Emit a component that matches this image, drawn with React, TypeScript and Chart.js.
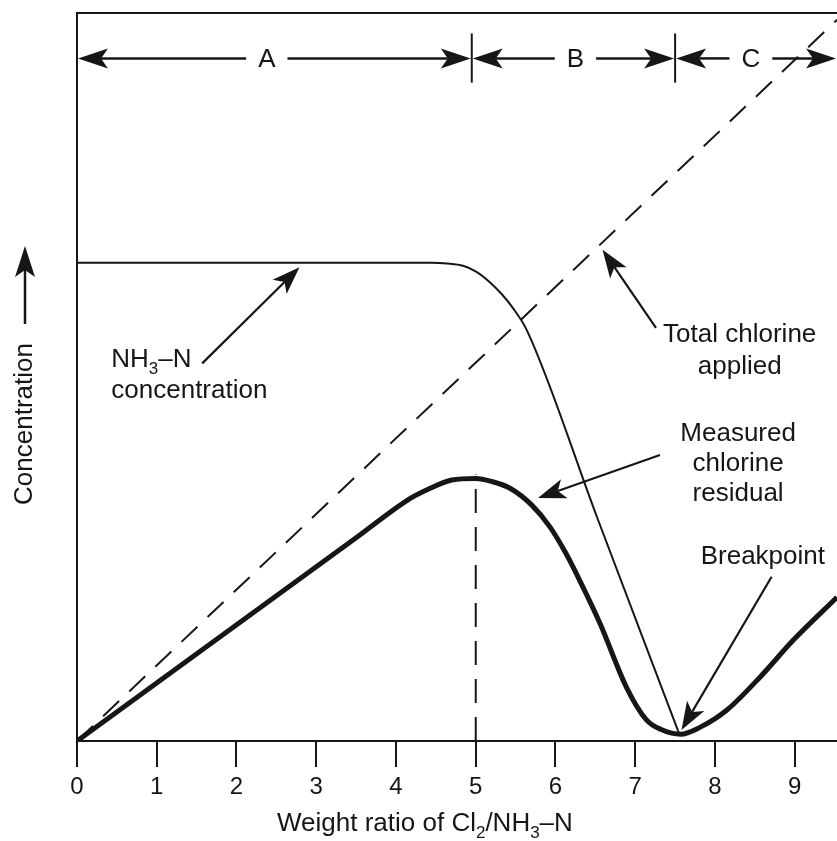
import React, { useEffect, useRef } from "react";
import { Chart, registerables } from "chart.js";

Chart.register(...registerables);

// ---------- data ----------
const X_MIN = 0;
const X_MAX = 9.53;
const Y_MIN = 0;
const Y_MAX = 9.62;

const xTickValues = [0, 1, 2, 3, 4, 5, 6, 7, 8, 9];

// Total chlorine applied (dashed, y = x)
const appliedX = [0, 9.53];
const appliedY = [0, 9.53];

// NH3-N concentration (thin line)
const nh3X = [0, 4.45, 4.64, 4.84, 5.01, 5.18, 5.33, 5.46, 5.64, 6.52, 7.56];
const nh3Y = [6.32, 6.32, 6.31, 6.28, 6.2, 6.06, 5.9, 5.73, 5.43, 2.96, 0.07];

// Measured chlorine residual (thick line)
const residualX = [0, 3.5, 4.17, 4.39, 4.7, 5.0, 5.2, 5.43, 5.7, 5.93, 6.12, 6.3, 6.56, 6.89, 7.14, 7.34, 7.57, 7.81, 8.15, 8.57, 8.98, 9.53];
const residualY = [0, 2.685, 3.2, 3.32, 3.45, 3.47, 3.43, 3.34, 3.12, 2.83, 2.5, 2.13, 1.55, 0.71, 0.28, 0.145, 0.09, 0.18, 0.41, 0.85, 1.33, 1.9];

// vertical dashed marker at peak
const peakX = [5, 5];
const peakY = [0, 3.52];

// zones A / B / C across the top
const zoneBounds = [0, 4.95, 7.5, 9.53];
const zoneLabels = ["A", "B", "C"];
const zoneLabelX = [2.38, 6.25, 8.45];
const zoneArrowY = 9.02;
const zoneDividerY = [8.7, 9.35];

// callouts: text lines, anchor, arrow start/end (data units)
const calloutTotalLines = ["Total chlorine", "applied"];
const calloutTotalAt = [8.31, 5.27];
const calloutTotalArrow = [7.26, 5.46, 6.59, 6.49];

const calloutResidualLines = ["Measured", "chlorine", "residual"];
const calloutResidualAt = [8.29, 3.96];
const calloutResidualArrow = [7.31, 3.78, 5.78, 3.21];

const calloutBreakLines = ["Breakpoint"];
const calloutBreakAt = [8.6, 2.34];
const calloutBreakArrow = [8.71, 2.17, 7.58, 0.145];

const calloutNh3At = [0.43, 4.94];
const calloutNh3Arrow = [1.57, 4.99, 2.79, 6.26];

const yAxisLabel = "Concentration";

// ---------- style ----------
const INK = "#161616";
const FONT = '"Liberation Sans", Arial, Helvetica, sans-serif';

const toPts = (xs: number[], ys: number[]) => xs.map((x, i) => ({ x, y: ys[i] }));

type Seg = [string, boolean];

function drawSegs(ctx: CanvasRenderingContext2D, segs: Seg[], x: number, y: number, size: number, align: "left" | "center") {
  const subSize = Math.round(size * 0.66);
  const widths = segs.map(([t, sub]) => {
    ctx.font = `${sub ? subSize : size}px ${FONT}`;
    return ctx.measureText(t).width;
  });
  const total = widths.reduce((a, b) => a + b, 0);
  let cx = align === "center" ? x - total / 2 : x;
  ctx.textAlign = "left";
  ctx.textBaseline = "alphabetic";
  segs.forEach(([t, sub], i) => {
    ctx.font = `${sub ? subSize : size}px ${FONT}`;
    ctx.fillText(t, cx, sub ? y + size * 0.27 : y);
    cx += widths[i];
  });
}

function arrowHead(ctx: CanvasRenderingContext2D, tx: number, ty: number, ang: number, len = 28, half = 10, notch = 7) {
  const dx = Math.cos(ang), dy = Math.sin(ang);
  const px = -dy, py = dx;
  ctx.beginPath();
  ctx.moveTo(tx, ty);
  ctx.lineTo(tx - len * dx + half * px, ty - len * dy + half * py);
  ctx.lineTo(tx - (len - notch) * dx, ty - (len - notch) * dy);
  ctx.lineTo(tx - len * dx - half * px, ty - len * dy - half * py);
  ctx.closePath();
  ctx.fill();
}

function arrow(ctx: CanvasRenderingContext2D, x0: number, y0: number, x1: number, y1: number, len = 28, half = 10) {
  const ang = Math.atan2(y1 - y0, x1 - x0);
  const notch = 7;
  ctx.beginPath();
  ctx.moveTo(x0, y0);
  ctx.lineTo(x1 - (len - notch) * Math.cos(ang), y1 - (len - notch) * Math.sin(ang));
  ctx.stroke();
  arrowHead(ctx, x1, y1, ang, len, half, notch);
}

const annotationPlugin = {
  id: "breakpointAnnotations",
  afterDraw(chart: any) {
    const { ctx, chartArea, scales } = chart;
    const xs = scales.x, ys = scales.y;
    const px = (v: number) => xs.getPixelForValue(v);
    const py = (v: number) => ys.getPixelForValue(v);
    ctx.save();
    ctx.strokeStyle = INK;
    ctx.fillStyle = INK;
    ctx.lineCap = "butt";

    // top frame
    ctx.lineWidth = 2;
    ctx.beginPath();
    ctx.moveTo(chartArea.left - 1, chartArea.top);
    ctx.lineTo(chartArea.right, chartArea.top);
    ctx.stroke();

    // zone arrows
    const yy = py(zoneArrowY);
    for (let i = 0; i < zoneLabels.length; i++) {
      const x0 = px(zoneBounds[i]);
      const x1 = px(zoneBounds[i + 1]);
      const lx = px(zoneLabelX[i]);
      ctx.font = `26px ${FONT}`;
      const w = ctx.measureText(zoneLabels[i]).width;
      const gap = 12;
      ctx.lineWidth = 2.5;
      arrow(ctx, lx - w / 2 - gap, yy, x0 + 1, yy, 30, 10);
      arrow(ctx, lx + w / 2 + gap, yy, x1 - 1, yy, 30, 10);
      ctx.font = `26px ${FONT}`;
      ctx.textAlign = "center";
      ctx.textBaseline = "middle";
      ctx.fillText(zoneLabels[i], lx, yy + 1);
    }
    ctx.lineWidth = 2;
    for (let i = 1; i < zoneBounds.length - 1; i++) {
      const x = px(zoneBounds[i]);
      ctx.beginPath();
      ctx.moveTo(x, py(zoneDividerY[1]));
      ctx.lineTo(x, py(zoneDividerY[0]));
      ctx.stroke();
    }

    // callouts
    const drawLines = (lines: string[], at: number[], gap: number) => {
      lines.forEach((t, i) => drawSegs(ctx, [[t, false]], px(at[0]), py(at[1]) + i * gap, 26, "center"));
    };
    ctx.lineWidth = 2.2;
    drawLines(calloutTotalLines, calloutTotalAt, 32);
    arrow(ctx, px(calloutTotalArrow[0]), py(calloutTotalArrow[1]), px(calloutTotalArrow[2]), py(calloutTotalArrow[3]));
    drawLines(calloutResidualLines, calloutResidualAt, 30);
    arrow(ctx, px(calloutResidualArrow[0]), py(calloutResidualArrow[1]), px(calloutResidualArrow[2]), py(calloutResidualArrow[3]));
    drawLines(calloutBreakLines, calloutBreakAt, 31);
    arrow(ctx, px(calloutBreakArrow[0]), py(calloutBreakArrow[1]), px(calloutBreakArrow[2]), py(calloutBreakArrow[3]));

    drawSegs(ctx, [["NH", false], ["3", true], ["\u2013N", false]], px(calloutNh3At[0]), py(calloutNh3At[1]), 26, "left");
    drawSegs(ctx, [["concentration", false]], px(calloutNh3At[0]), py(calloutNh3At[1]) + 31, 26, "left");
    arrow(ctx, px(calloutNh3Arrow[0]), py(calloutNh3Arrow[1]), px(calloutNh3Arrow[2]), py(calloutNh3Arrow[3]));

    // y-axis label with arrow
    ctx.save();
    ctx.translate(25, 424);
    ctx.rotate(-Math.PI / 2);
    ctx.font = `26px ${FONT}`;
    ctx.textAlign = "center";
    ctx.textBaseline = "middle";
    ctx.fillText(yAxisLabel, 0, 0);
    ctx.restore();
    ctx.lineWidth = 2.5;
    arrow(ctx, 25, 324, 25, 246, 31, 10);

    // x-axis title
    drawSegs(
      ctx,
      [["Weight ratio of Cl", false], ["2", true], ["/NH", false], ["3", true], ["\u2013N", false]],
      277,
      831,
      26,
      "left"
    );

    ctx.restore();
  },
};

export default function App() {
  const ref = useRef<HTMLCanvasElement | null>(null);

  useEffect(() => {
    if (!ref.current) return;
    const chart = new Chart(ref.current, {
      type: "line",
      data: {
        datasets: [
          {
            label: "Total chlorine applied",
            data: toPts(appliedX, appliedY),
            borderColor: INK,
            borderWidth: 2,
            borderDash: [22, 14],
            pointRadius: 0,
            tension: 0,
          },
          {
            label: "NH3-N concentration",
            data: toPts(nh3X, nh3Y),
            borderColor: INK,
            borderWidth: 2,
            pointRadius: 0,
            cubicInterpolationMode: "monotone",
          },
          {
            label: "Measured chlorine residual",
            data: toPts(residualX, residualY),
            borderColor: INK,
            borderWidth: 5,
            pointRadius: 0,
            cubicInterpolationMode: "monotone",
            borderJoinStyle: "round",
          },
          {
            label: "Peak",
            data: toPts(peakX, peakY),
            borderColor: INK,
            borderWidth: 2,
            borderDash: [24, 14],
            pointRadius: 0,
          },
        ],
      },
      options: {
        responsive: false,
        maintainAspectRatio: false,
        devicePixelRatio: 1,
        animation: false,
        layout: { padding: { top: 13, right: 0, left: 0, bottom: 0 } },
        plugins: { legend: { display: false }, tooltip: { enabled: false } },
        scales: {
          x: {
            type: "linear",
            min: X_MIN,
            max: X_MAX,
            afterBuildTicks: (s: any) => {
              s.ticks = xTickValues.map((v) => ({ value: v }));
            },
            afterFit: (s: any) => {
              s.height = 100;
            },
            ticks: {
              autoSkip: false,
              maxRotation: 0,
              padding: 6,
              color: INK,
              font: { family: FONT, size: 24 },
              callback: (v: any) => String(v),
            },
            grid: {
              display: true,
              drawOnChartArea: false,
              drawTicks: true,
              tickLength: 26,
              tickColor: INK,
              tickWidth: 2,
              lineWidth: 2,
            },
            border: { display: true, color: INK, width: 2 },
          },
          y: {
            type: "linear",
            min: Y_MIN,
            max: Y_MAX,
            afterFit: (s: any) => {
              s.width = 77;
            },
            ticks: { display: false },
            grid: { display: false },
            border: { display: true, color: INK, width: 2 },
          },
        },
      },
      plugins: [annotationPlugin],
    } as any);
    return () => chart.destroy();
  }, []);

  return (
    <div style={{ position: "fixed", left: 0, top: 0, width: 837, height: 841, background: "#fff" }}>
      <canvas ref={ref} width={837} height={841} style={{ display: "block" }} />
    </div>
  );
}
